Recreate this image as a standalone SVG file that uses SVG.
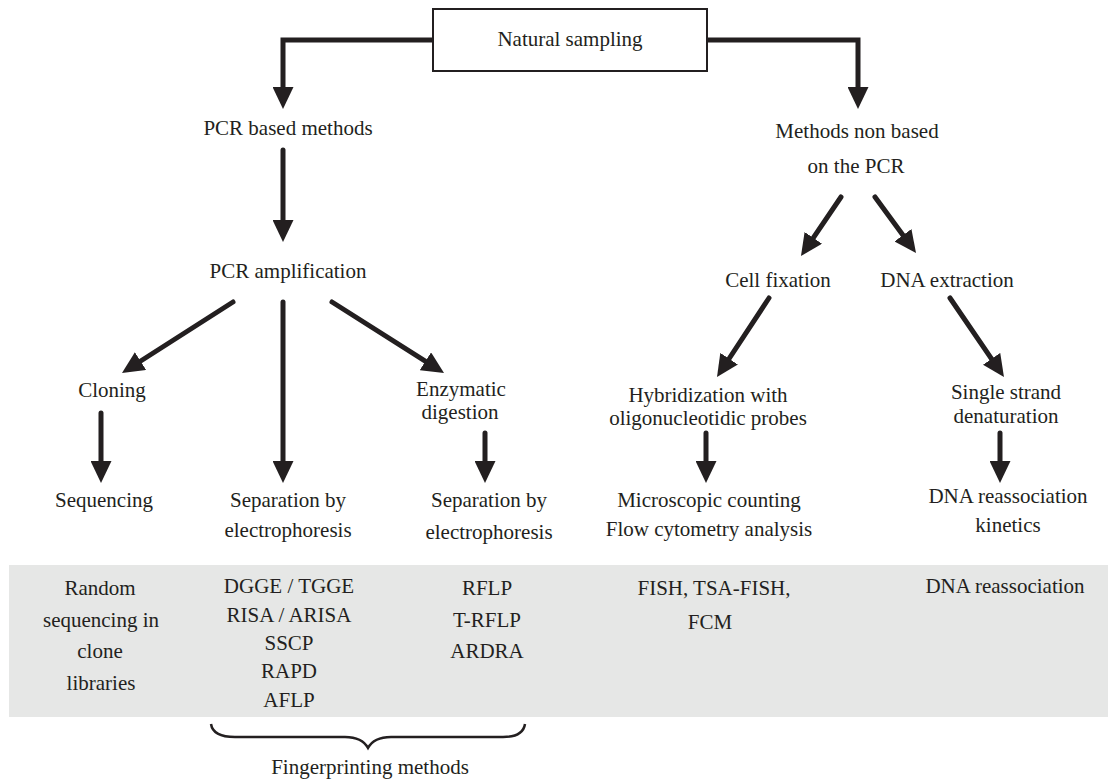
<svg xmlns="http://www.w3.org/2000/svg" width="1116" height="781" viewBox="0 0 1116 781">
<defs>
<marker id="ah" markerUnits="userSpaceOnUse" viewBox="0 0 22 21" refX="10" refY="10.5" markerWidth="22" markerHeight="21" orient="auto">
<path d="M0,0 L22,10.5 L0,21 Z" fill="#231f20"/>
</marker>
<style>
text{font-family:"Liberation Serif","Times New Roman",serif;font-size:21px;fill:#231f20;text-anchor:middle}
.c{fill:none;stroke:#231f20;stroke-width:5;stroke-linecap:round;stroke-linejoin:miter;marker-end:url(#ah)}
.band{fill:#e6e7e6}
.box{fill:#fff;stroke:#231f20;stroke-width:2}
.brace{fill:none;stroke:#231f20;stroke-width:2.5}
</style>
</defs>
<rect class="band" x="9" y="565" width="1099" height="152"/>
<g id="connectors">
<path class="c" d="M433,40 H283 V97"/>
<path class="c" d="M707,40 H858 V97"/>
<path class="c" d="M283,150 V230"/>
<path class="c" d="M233,302 L132.1,366.5"/>
<path class="c" d="M283,302 V471"/>
<path class="c" d="M332,302 L433.9,366.6"/>
<path class="c" d="M101,413 V471"/>
<path class="c" d="M485,433 V471"/>
<path class="c" d="M841,197 L807.7,246.1"/>
<path class="c" d="M875,197 L908.9,243.3"/>
<path class="c" d="M769,298 L723.6,367"/>
<path class="c" d="M950,298 L997.2,367.1"/>
<path class="c" d="M706,433 V471"/>
<path class="c" d="M1000,433 V471"/>
</g>
<g id="natural-sampling">
<rect class="box" x="433" y="9" width="274" height="62"/>
<text x="570" y="46">Natural sampling</text>
</g>
<g id="pcr-based"><text x="288" y="135">PCR based methods</text></g>
<g id="pcr-amplification"><text x="288" y="278">PCR amplification</text></g>
<g id="non-pcr"><text x="857" y="138">Methods non based</text><text x="856" y="173">on the PCR</text></g>
<g id="cell-fixation"><text x="778" y="287">Cell fixation</text></g>
<g id="dna-extraction"><text x="947" y="287">DNA extraction</text></g>
<g id="cloning"><text x="112" y="397">Cloning</text></g>
<g id="enzymatic"><text x="461" y="396">Enzymatic</text><text x="460" y="419">digestion</text></g>
<g id="hybridization"><text x="708" y="402">Hybridization with</text><text x="708" y="425">oligonucleotidic probes</text></g>
<g id="single-strand"><text x="1006" y="399">Single strand</text><text x="1006" y="423">denaturation</text></g>
<g id="sequencing"><text x="104" y="507">Sequencing</text></g>
<g id="separation-1"><text x="288" y="507">Separation by</text><text x="288" y="537">electrophoresis</text></g>
<g id="separation-2"><text x="489" y="507">Separation by</text><text x="489" y="539">electrophoresis</text></g>
<g id="microscopic"><text x="709" y="507">Microscopic counting</text><text x="709" y="536">Flow cytometry analysis</text></g>
<g id="reassociation-kinetics"><text x="1008" y="503">DNA reassociation</text><text x="1008" y="532">kinetics</text></g>
<g id="band-cloning"><text x="100" y="595">Random</text><text x="101" y="627">sequencing in</text><text x="100" y="658">clone</text><text x="101" y="690">libraries</text></g>
<g id="band-fingerprint"><text x="289" y="593">DGGE / TGGE</text><text x="289" y="622">RISA / ARISA</text><text x="289" y="650">SSCP</text><text x="289" y="678">RAPD</text><text x="289" y="707">AFLP</text></g>
<g id="band-rflp"><text x="487" y="595">RFLP</text><text x="487" y="627">T-RFLP</text><text x="487" y="658">ARDRA</text></g>
<g id="band-fish"><text x="714" y="595">FISH, TSA-FISH,</text><text x="710" y="629">FCM</text></g>
<g id="band-dna"><text x="1005" y="593">DNA reassociation</text></g>
<g id="fingerprinting">
<path class="brace" d="M211,724 Q213,737 235,737 L345,737 Q362,737 368,748 Q374,737 391,737 L503,737 Q523,737 525,724"/>
<text x="370" y="774">Fingerprinting methods</text>
</g>
</svg>
